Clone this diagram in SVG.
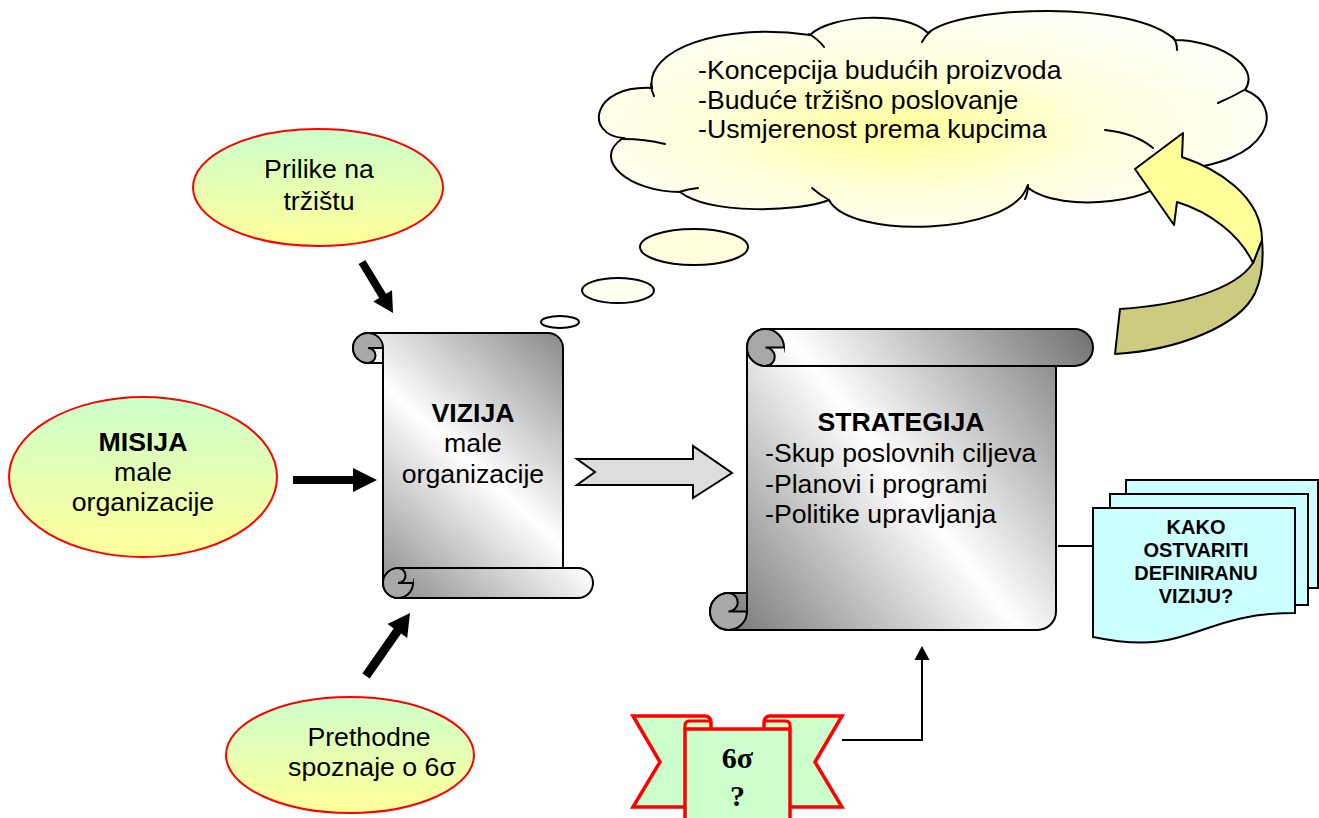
<svg xmlns="http://www.w3.org/2000/svg" width="1319" height="818" viewBox="0 0 1319 818">
<style>
.t{font-family:"Liberation Sans",Arial,sans-serif;font-size:26.7px;fill:#000}
.b{font-weight:bold}
.m{text-anchor:middle}
.d{font-family:"Liberation Sans",Arial,sans-serif;font-size:20px;font-weight:bold;text-anchor:middle;fill:#000}
.s{font-family:"Liberation Serif","Times New Roman",serif;font-size:30px;font-weight:bold;text-anchor:middle;fill:#000}
.ell{fill:url(#gEll);stroke:#ff0000;stroke-width:2}
.sc{stroke:#000;stroke-width:2;stroke-linejoin:round}
.curl{fill:#a8a8a8;stroke:#000;stroke-width:2}
.ln{fill:none;stroke:#000;stroke-width:2}
.cl{fill:none;stroke:#000;stroke-width:2;stroke-linecap:round}
.doc{fill:#ccffff;stroke:#000;stroke-width:2}
.rib{fill:#ccffcc;stroke:#ff0000;stroke-width:3.5;stroke-linejoin:miter}
.blk{fill:#000}
</style>
<defs>
<linearGradient id="gEll" x1="0" y1="0" x2="0" y2="1">
<stop offset="0" stop-color="#ccffcc"/>
<stop offset="1" stop-color="#ffff99"/>
</linearGradient>
<linearGradient id="gV" gradientUnits="userSpaceOnUse" x1="240" y1="0" x2="0" y2="265">
<stop offset="0" stop-color="#7a7a7a"/>
<stop offset="0.5" stop-color="#ffffff"/>
<stop offset="1" stop-color="#7a7a7a"/>
</linearGradient>
<linearGradient id="gS" gradientUnits="userSpaceOnUse" x1="383" y1="301" x2="0" y2="0">
<stop offset="0" stop-color="#707070"/>
<stop offset="0.5" stop-color="#ffffff"/>
<stop offset="1" stop-color="#707070"/>
</linearGradient>
<radialGradient id="gCloud" cx="0.45" cy="0.55" r="0.55">
<stop offset="0" stop-color="#ffff99"/>
<stop offset="0.55" stop-color="#ffffdd"/>
<stop offset="1" stop-color="#fffff6"/>
</radialGradient>
</defs>

<g id="cloud">
<path d="M680,192 C630,192 590,160 623,138 C585,135 590,85 652,88 C645,50 720,22 810,35 C830,15 905,10 928,33 C960,5 1135,0 1175,40 C1215,40 1262,65 1245,90 C1285,105 1275,165 1170,170 C1170,202 1060,215 1027,187 C1010,235 850,240 829,200 C800,212 710,215 680,192 Z" fill="url(#gCloud)" stroke="#000" stroke-width="2"/>
<path class="cl" d="M623,139 Q645,139 665,144 M651,84 Q651,90 654,96 M809,34 Q818,39 824,47 M930,32 Q925,36 922,42 M1173,37 Q1177,42 1177,50 M1246,89 Q1232,97 1218,103 M1105,130 Q1135,133 1153,148 M1025,199 Q1028,193 1028,185 M829,200 Q820,195 812,188 M679,192 Q688,189 698,188"/>
<text class="t" x="698" y="79">-Koncepcija budućih proizvoda</text>
<text class="t" x="698" y="109">-Buduće tržišno poslovanje</text>
<text class="t" x="698" y="138">-Usmjerenost prema kupcima</text>
</g>
<g id="bubbles">
<ellipse cx="694" cy="247" rx="54" ry="18" fill="#ffffdd" stroke="#000" stroke-width="2"/>
<ellipse cx="618" cy="290.5" rx="36" ry="12.5" fill="#fffff2" stroke="#000" stroke-width="2"/>
<ellipse cx="560" cy="322" rx="19" ry="6" fill="#ffffff" stroke="#000" stroke-width="2"/>
</g>

<g id="curved-arrow" stroke="#000" stroke-width="2" stroke-linejoin="round">
<path d="M1253,263 L1262,240 C1264,262 1261,280 1255,293 C1240,325 1180,350 1115,354 L1120,309 C1180,305 1235,290 1253,263 Z" fill="#cccc80"/>
<path d="M1135,169 L1183,133 L1182,157 C1215,168 1262,195 1262,240 L1253,263 C1240,235 1210,212 1177,202 L1174,225 Z" fill="#ffff99"/>
</g>

<g id="prilike">
<ellipse class="ell" cx="318" cy="187.5" rx="125" ry="58.5"/>
<text class="t m" x="319" y="178">Prilike na</text>
<text class="t m" x="319" y="210">tržištu</text>
</g>
<g id="misija">
<ellipse class="ell" cx="143" cy="477" rx="134" ry="80"/>
<text class="t b m" x="143" y="451">MISIJA</text>
<text class="t m" x="143" y="481">male</text>
<text class="t m" x="143" y="511">organizacije</text>
</g>
<g id="prethodne">
<ellipse class="ell" cx="350" cy="755" rx="124" ry="58"/>
<text class="t m" x="369" y="746">Prethodne</text>
<text class="t m" x="372" y="776">spoznaje o 6σ</text>
</g>

<g id="vizija">
<g transform="translate(353,333)">
<path class="sc" fill="url(#gV)" d="M30,15 L30,250 A15,15 0 0 0 45,265 L225,265 A15,15 0 0 0 225,235 L210,235 L210,15 A15,15 0 0 0 195,0 L15,0 A15,15 0 0 0 15,30 L30,30 Z"/>
<circle class="curl" cx="15" cy="15" r="15"/>
<path fill="url(#gV)" d="M15,15 L30,15 L30,30 L15,30 A7.5,7.5 0 0 0 15,15 Z"/>
<path class="ln" d="M15,30 A7.5,7.5 0 0 0 15,15 L30,15 L30,30 Z"/>
<circle class="curl" cx="45" cy="250" r="15"/>
<path fill="url(#gV)" d="M45,250 L60,250 L60,235 L45,235 A7.5,7.5 0 0 1 45,250 Z"/>
<path class="ln" d="M45,235 A7.5,7.5 0 0 1 45,250 L60,250 M45,235 L210,235"/>
</g>
<text class="t b m" x="473" y="422">VIZIJA</text>
<text class="t m" x="473" y="452">male</text>
<text class="t m" x="473" y="483">organizacije</text>
</g>

<g id="strategija">
<g transform="translate(710,630) scale(1,-1)">
<path class="sc" fill="url(#gS)" d="M37,18.5 L37,282.5 A18.5,18.5 0 0 0 55.5,301 L364.5,301 A18.5,18.5 0 0 0 364.5,264 L346,264 L346,18.5 A18.5,18.5 0 0 0 327.5,0 L18.5,0 A18.5,18.5 0 0 0 18.5,37 L37,37 Z"/>
<circle class="curl" cx="18.5" cy="18.5" r="18.5"/>
<path fill="url(#gS)" d="M18.5,18.5 L37,18.5 L37,37 L18.5,37 A9.25,9.25 0 0 0 18.5,18.5 Z"/>
<path class="ln" d="M18.5,37 A9.25,9.25 0 0 0 18.5,18.5 L37,18.5 L37,37 Z"/>
<circle class="curl" cx="55.5" cy="282.5" r="18.5"/>
<path fill="url(#gS)" d="M55.5,282.5 L74,282.5 L74,264 L55.5,264 A9.25,9.25 0 0 1 55.5,282.5 Z"/>
<path class="ln" d="M55.5,264 A9.25,9.25 0 0 1 55.5,282.5 L74,282.5 M55.5,264 L346,264"/>
</g>
<text class="t b m" x="901" y="431">STRATEGIJA</text>
<text class="t" x="765" y="462">-Skup poslovnih ciljeva</text>
<text class="t" x="765" y="493">-Planovi i programi</text>
<text class="t" x="765" y="523">-Politike upravljanja</text>
</g>

<g id="documents">
<rect class="doc" x="1126" y="480" width="192" height="108"/>
<rect class="doc" x="1110" y="494" width="198" height="111"/>
<path class="doc" d="M1093,508 L1295,508 L1295,613 C1194,613 1194,658 1093,637 Z"/>
<text class="d" x="1196" y="534">KAKO</text>
<text class="d" x="1196" y="557">OSTVARITI</text>
<text class="d" x="1196" y="580">DEFINIRANU</text>
<text class="d" x="1196" y="603">VIZIJU?</text>
</g>

<g id="banner">
<path class="rib" d="M633,716 L705,716 A6,6 0 0 1 711,722 L711,807 L633,807 L660,762 Z"/>
<path class="rib" d="M842,716 L770,716 A6,6 0 0 0 764,722 L764,807 L842,807 L815,762 Z"/>
<rect class="rib" x="685" y="729" width="105" height="110"/>
<path d="M685,729 L685,725 Q685,721 690,721 L711,721 M790,729 L790,725 Q790,721 785,721 L764,721" fill="none" stroke="#ff0000" stroke-width="3"/>
<text class="s" x="737.5" y="768">6σ</text>
<text class="s" x="737.5" y="806">?</text>
</g>

<g id="connectors">
<polygon class="blk" points="358.6,264.1 379.2,298.0 373.2,301.6 393,313 392.0,290.2 386.0,293.8 365.4,259.9"/>
<polygon class="blk" points="293,476 353,476 353,468 377,480 353,492 353,484 293,484"/>
<polygon class="blk" points="369.7,678.6 401.1,633.6 407.2,637.9 410,613 387.6,624.1 393.7,628.4 362.3,673.4"/>
<polygon points="577,459 693,459 693,446 732,473 693,498 693,485 577,485 595,472" fill="#dddddd" stroke="#000" stroke-width="2" stroke-linejoin="miter"/>
<path class="ln" d="M1058,546 L1093,546"/>
<path class="ln" d="M842,740 L922,740 L922,659"/>
<polygon class="blk" points="922,646 914.5,660 929.5,660"/>
</g>
</svg>
